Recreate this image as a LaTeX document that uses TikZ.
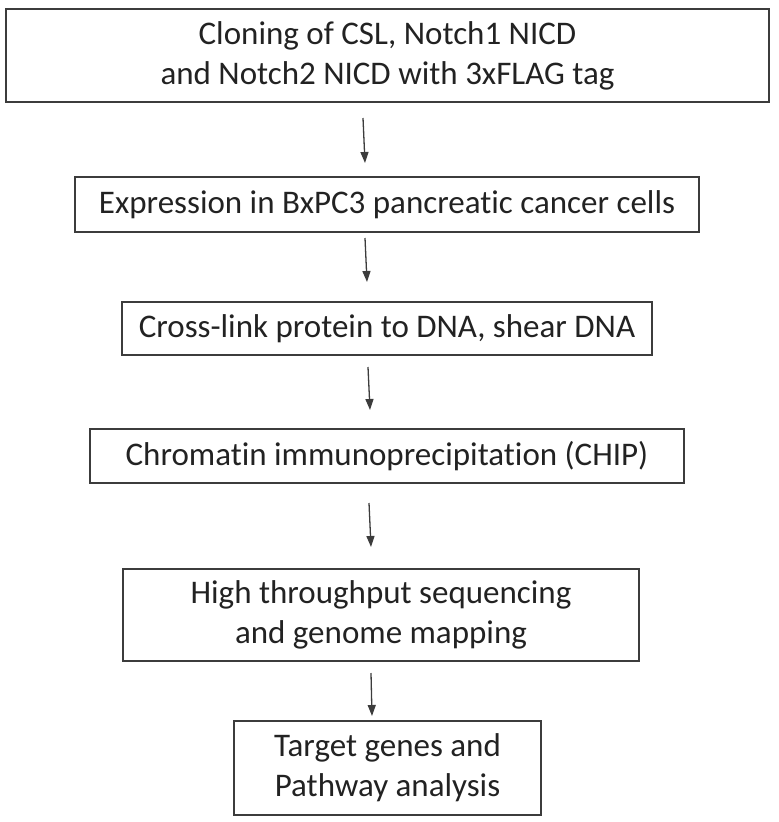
\documentclass[tikz,border=0pt]{standalone}
\usepackage{fontspec}
\setmainfont{Carlito}[Ligatures=NoCommon]
\usetikzlibrary{arrows.meta}
\definecolor{linegray}{HTML}{3C3C3C}
\definecolor{textgray}{HTML}{222222}
\tikzset{
  stepbox/.style={draw=linegray, line width=1.8pt, inner sep=0pt, align=center,
    text=textgray, font=\fontsize{33}{40}\selectfont},
  flow/.style={draw=linegray, line width=1.3pt, -{Triangle[length=11pt,width=8pt]}}
}
\begin{document}
\begin{tikzpicture}[x=1pt,y=-1pt]
\useasboundingbox (0,0) rectangle (779,822);
\node[stepbox, minimum width=763pt, minimum height=93pt] (b1) at (387.5,55.5)
  {Cloning of CSL, Notch1 NICD\\and Notch2 NICD with 3xFLAG tag};
\node[stepbox, minimum width=624pt, minimum height=55pt] (b2) at (387,204.5)
  {Expression in BxPC3 pancreatic cancer cells};
\node[stepbox, minimum width=530pt, minimum height=53pt] (b3) at (387,328.5)
  {Cross-link protein to DNA, shear DNA};
\node[stepbox, minimum width=594pt, minimum height=54pt] (b4) at (387,456)
  {Chromatin immunoprecipitation (CHIP)};
\node[stepbox, minimum width=516pt, minimum height=92pt] (b5) at (381,615)
  {High throughput sequencing\\and genome mapping};
\node[stepbox, minimum width=307pt, minimum height=94pt] (b6) at (387.5,768)
  {Target genes and\\Pathway analysis};
\coordinate (a1s) at (363,118); \coordinate (a1e) at (365,163);
\coordinate (a2s) at (365,238); \coordinate (a2e) at (367,282);
\coordinate (a3s) at (368,367); \coordinate (a3e) at (370,410);
\coordinate (a4s) at (369,503); \coordinate (a4e) at (371,547);
\coordinate (a5s) at (371,673); \coordinate (a5e) at (372,716);
\draw[flow] (a1s) -- (a1e);
\draw[flow] (a2s) -- (a2e);
\draw[flow] (a3s) -- (a3e);
\draw[flow] (a4s) -- (a4e);
\draw[flow] (a5s) -- (a5e);
\end{tikzpicture}
\end{document}
